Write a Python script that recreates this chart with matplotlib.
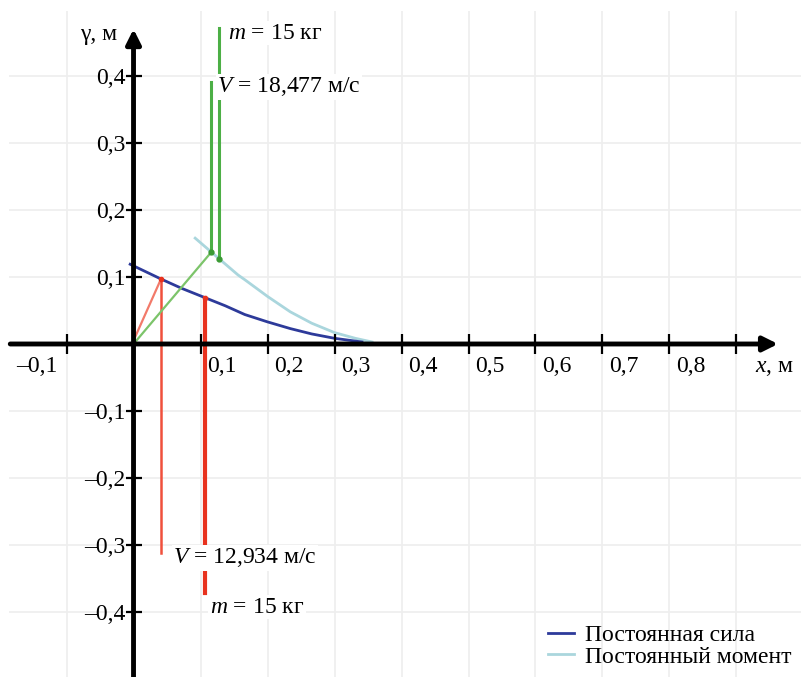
import matplotlib.pyplot as plt

plt.rcParams['font.family'] = ['Liberation Serif', 'DejaVu Serif']
plt.rcParams['mathtext.fontset'] = 'custom'
plt.rcParams['mathtext.rm'] = 'Liberation Serif'
plt.rcParams['mathtext.it'] = 'Liberation Serif:italic'

# curves
force_x = [-0.005, 0.041, 0.072, 0.107, 0.137, 0.166, 0.200, 0.234, 0.266, 0.300, 0.341]
force_y = [0.119, 0.097, 0.083, 0.069, 0.057, 0.044, 0.033, 0.023, 0.015, 0.0085, 0.003]
moment_x = [0.092, 0.128, 0.156, 0.166, 0.200, 0.234, 0.266, 0.300, 0.331, 0.356]
moment_y = [0.158, 0.127, 0.103, 0.096, 0.071, 0.048, 0.031, 0.017, 0.0085, 0.003]

# red construction (constant force)
red_start = (0.0, 0.005)
red_x = [0.041, 0.107]
red_top = [0.097, 0.069]
red_bottom = [-0.312, -0.372]

# green construction (constant moment)
green_start = (0.0, 0.0)
green_x = [0.116, 0.128]
green_bottom = [0.137, 0.127]
green_top = [0.391, 0.472]

x_ticks = [-0.1, 0.1, 0.2, 0.3, 0.4, 0.5, 0.6, 0.7, 0.8, 0.9]
x_labels = ['–0,1', '0,1', '0,2', '0,3', '0,4', '0,5', '0,6', '0,7', '0,8', '']
y_ticks = [-0.4, -0.3, -0.2, -0.1, 0.1, 0.2, 0.3, 0.4]
y_labels = ['–0,4', '–0,3', '–0,2', '–0,1', '0,1', '0,2', '0,3', '0,4']

fs = 17
fig = plt.figure(figsize=(8.01, 6.77), dpi=100)
ax = fig.add_axes([0, 0, 1, 1])
ax.set_xlim(-0.1993, 0.9963)
ax.set_ylim(-0.497, 0.5134)
ax.axis('off')

# grid
grid_c = '#eeeeee'
ax.vlines(x_ticks, -0.5, 0.497, color=grid_c, lw=1.2, zorder=0)
ax.hlines(y_ticks, -0.186, 1.0, color=grid_c, lw=1.2, zorder=0)

# axes with arrows
ax.annotate('', xy=(0.962, 0), xytext=(-0.184, 0),
            arrowprops=dict(arrowstyle='-|>', lw=3.5, color='black', mutation_scale=22, shrinkA=0, shrinkB=0),
            zorder=5)
ax.annotate('', xy=(0, 0.470), xytext=(0, -0.5),
            arrowprops=dict(arrowstyle='-|>', lw=3.5, color='black', mutation_scale=22, shrinkA=0, shrinkB=0),
            zorder=5)
ax.plot(x_ticks, [0] * len(x_ticks), ls='none', marker='|', ms=14, mew=1.6, color='black', zorder=5)
ax.plot([0] * len(y_ticks), y_ticks, ls='none', marker='_', ms=11, mew=1.6, color='black', zorder=5)

# tick labels
for tx, lab in zip(x_ticks, x_labels):
    if tx < 0:
        ax.annotate(lab, (tx, 0), xytext=(-6.5, -20), textcoords='offset points',
                    ha='right', va='baseline', fontsize=fs)
    else:
        ax.annotate(lab, (tx, 0), xytext=(5, -20), textcoords='offset points',
                    ha='left', va='baseline', fontsize=fs)
for ty, lab in zip(y_ticks, y_labels):
    ax.annotate(lab, (0, ty), xytext=(-6, -5.5), textcoords='offset points',
                ha='right', va='baseline', fontsize=fs)

ax.annotate('$x$, м', (0.928, 0), xytext=(0, -20), textcoords='offset points',
            ha='left', va='baseline', fontsize=fs)
ax.text(-0.025, 0.454, 'γ, м', ha='right', va='baseline', fontsize=fs)

# curves
ax.plot(force_x, force_y, color='#2d3a9a', lw=2, label='Постоянная сила', zorder=3)
ax.plot(moment_x, moment_y, color='#aad6dd', lw=2, label='Постоянный момент', zorder=2)

# red lines
ax.plot([red_start[0], red_x[0]], [red_start[1], red_top[0]], color='#f27a6a', lw=1.6, zorder=3)
ax.plot([red_x[0], red_x[0]], [red_top[0], red_bottom[0]], color='#f0503c', lw=1.8, zorder=3)
ax.plot([red_x[1], red_x[1]], [red_top[1], red_bottom[1]], color='#e8321e', lw=3, zorder=3)
ax.plot(red_x, red_top, ls='none', marker='o', ms=3, color='#e8321e', zorder=4)

# green lines
ax.plot([green_start[0], green_x[0]], [green_start[1], green_bottom[0]], color='#7cc46a', lw=1.6, zorder=3)
ax.plot([green_x[0], green_x[0]], [green_bottom[0], green_top[0]], color='#4caf46', lw=2.2, zorder=3)
ax.plot([green_x[1], green_x[1]], [green_bottom[1], green_top[1]], color='#4caf46', lw=2.2, zorder=3)
ax.plot(green_x, green_bottom, ls='none', marker='o', ms=3.5, color='#3a9a34', zorder=4)

# annotations
box = dict(facecolor='white', edgecolor='none', pad=1)
ax.text(0.141, 0.464, '$m$ = 15 кг', ha='left', va='center', fontsize=fs, bbox=box, zorder=6)
ax.text(0.125, 0.384, '$V$ = 18,477 м/с', ha='left', va='center', fontsize=fs, bbox=box, zorder=6)
ax.text(0.059, -0.319, '$V$ = 12,934 м/с', ha='left', va='center', fontsize=fs, bbox=box, zorder=6)
ax.text(0.114, -0.393, '$m$ = 15 кг', ha='left', va='center', fontsize=fs, bbox=box, zorder=6)

ax.legend(loc='lower right', bbox_to_anchor=(1, 0), frameon=False, fontsize=fs,
          handlelength=1.1, handletextpad=0.45, labelspacing=0.0, borderaxespad=0.2,
          borderpad=0.2)

fig.savefig('out.png', dpi=100)
